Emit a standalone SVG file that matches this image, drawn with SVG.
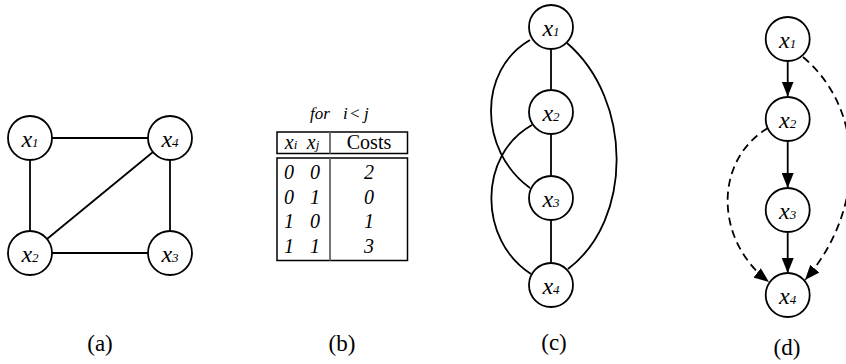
<svg xmlns="http://www.w3.org/2000/svg" width="846" height="364" viewBox="0 0 846 364">
<style>
  .node circle { fill: #fff; stroke: #000; stroke-width: 1.8; }
  text { font-family: 'Liberation Serif', 'DejaVu Serif', serif; fill: #000; }
  .lbl { font-style: italic; font-size: 24px; text-anchor: middle; }
  .sub { font-size: 13px; }
  .edge { fill: none; stroke: #000; stroke-width: 1.8; }
  .dash { stroke-dasharray: 8 5; }
  .cap { font-size: 23px; text-anchor: middle; }
  .tb { font-size: 20px; text-anchor: middle; }
  .hd { font-size: 17px; font-style: italic; }
  .it { font-style: italic; }
  .box { fill: none; stroke: #000; stroke-width: 1.5; }
  .div { stroke: #666; stroke-width: 1.8; }
</style>
<defs>
  <marker id="arr" viewBox="0 0 15 12" refX="15" refY="6" markerWidth="15" markerHeight="12" markerUnits="userSpaceOnUse" orient="auto">
    <path d="M0,0 L15,6 L0,12 Z" fill="#000"/>
  </marker>
</defs>
<rect width="846" height="364" fill="#fff"/>

<!-- connectors -->
<g id="connectors">
  <!-- (a) -->
  <line class="edge" x1="52" y1="138" x2="148" y2="138"/>
  <line class="edge" x1="30" y1="160" x2="30" y2="231"/>
  <line class="edge" x1="170" y1="160" x2="170" y2="231"/>
  <line class="edge" x1="52" y1="253" x2="148" y2="253"/>
  <line class="edge" x1="47" y1="239" x2="153" y2="152"/>
  <!-- (c) -->
  <line class="edge" x1="551" y1="49" x2="551" y2="90"/>
  <line class="edge" x1="551" y1="134" x2="551" y2="176"/>
  <line class="edge" x1="551" y1="220" x2="551" y2="263"/>
  <path class="edge" d="M530,40 C478,70 478,150 530,188"/>
  <path class="edge" d="M532,125 C478,155 478,240 531,274"/>
  <path class="edge" d="M567,43 C633,100 633,220 568,269"/>
  <!-- (d) -->
  <line class="edge" x1="787.7" y1="61" x2="787.7" y2="96.5" marker-end="url(#arr)"/>
  <line class="edge" x1="787.7" y1="141" x2="787.7" y2="188" marker-end="url(#arr)"/>
  <line class="edge" x1="787.7" y1="232" x2="787.7" y2="273" marker-end="url(#arr)"/>
  <path class="edge dash" d="M803,57 C866,110 866,210 805,280" marker-end="url(#arr)"/>
  <path class="edge dash" d="M768,128 C714,160 714,240 769,282" marker-end="url(#arr)"/>
</g>

<!-- (a) nodes -->
<g id="a-x1" class="node"><circle cx="30" cy="138" r="22"/><text class="lbl" x="30" y="147">x<tspan class="sub">1</tspan></text></g>
<g id="a-x4" class="node"><circle cx="170" cy="138" r="22"/><text class="lbl" x="170" y="147">x<tspan class="sub">4</tspan></text></g>
<g id="a-x2" class="node"><circle cx="30" cy="253" r="22"/><text class="lbl" x="30" y="262">x<tspan class="sub">2</tspan></text></g>
<g id="a-x3" class="node"><circle cx="170" cy="253" r="22"/><text class="lbl" x="170" y="262">x<tspan class="sub">3</tspan></text></g>

<!-- (b) table -->
<g id="table">
  <text class="hd" x="310" y="119">for</text>
  <text class="hd" x="343" y="119">i</text>
  <text class="hd" x="350" y="119" style="font-style:normal">&lt;</text>
  <text class="hd" x="364" y="119">j</text>
  <rect class="box" x="277" y="132" width="130.5" height="21.5"/>
  <line class="div" x1="330" y1="132" x2="330" y2="153.5"/>
  <text class="tb it" x="291" y="149">x<tspan style="font-size:13px">i</tspan></text>
  <text class="tb it" x="313" y="149">x<tspan style="font-size:13px">j</tspan></text>
  <text class="tb" x="369" y="149">Costs</text>
  <rect class="box" x="277" y="158" width="130.5" height="102.5"/>
  <line class="div" x1="330" y1="158" x2="330" y2="260.5"/>
  <text class="tb it" x="289" y="179">0</text><text class="tb it" x="315" y="179">0</text><text class="tb it" x="369" y="179">2</text>
  <text class="tb it" x="289" y="203.5">0</text><text class="tb it" x="315" y="203.5">1</text><text class="tb it" x="369" y="203.5">0</text>
  <text class="tb it" x="289" y="228">1</text><text class="tb it" x="315" y="228">0</text><text class="tb it" x="369" y="228">1</text>
  <text class="tb it" x="289" y="252.5">1</text><text class="tb it" x="315" y="252.5">1</text><text class="tb it" x="369" y="252.5">3</text>
</g>

<!-- (c) nodes -->
<g id="c-x1" class="node"><circle cx="551" cy="27" r="22"/><text class="lbl" x="551" y="36">x<tspan class="sub">1</tspan></text></g>
<g id="c-x2" class="node"><circle cx="551" cy="112" r="22"/><text class="lbl" x="551" y="121">x<tspan class="sub">2</tspan></text></g>
<g id="c-x3" class="node"><circle cx="551" cy="198" r="22"/><text class="lbl" x="551" y="207">x<tspan class="sub">3</tspan></text></g>
<g id="c-x4" class="node"><circle cx="551" cy="285" r="22"/><text class="lbl" x="551" y="294">x<tspan class="sub">4</tspan></text></g>

<!-- (d) nodes -->
<g id="d-x1" class="node"><circle cx="787.7" cy="39" r="22"/><text class="lbl" x="787.7" y="48">x<tspan class="sub">1</tspan></text></g>
<g id="d-x2" class="node"><circle cx="787.7" cy="119" r="22"/><text class="lbl" x="787.7" y="128">x<tspan class="sub">2</tspan></text></g>
<g id="d-x3" class="node"><circle cx="787.7" cy="210" r="22"/><text class="lbl" x="787.7" y="219">x<tspan class="sub">3</tspan></text></g>
<g id="d-x4" class="node"><circle cx="787.7" cy="295" r="22"/><text class="lbl" x="787.7" y="304">x<tspan class="sub">4</tspan></text></g>

<!-- captions -->
<g id="captions">
  <text class="cap" x="100" y="351">(a)</text>
  <text class="cap" x="342" y="351">(b)</text>
  <text class="cap" x="554" y="350">(c)</text>
  <text class="cap" x="787" y="355">(d)</text>
</g>
</svg>
